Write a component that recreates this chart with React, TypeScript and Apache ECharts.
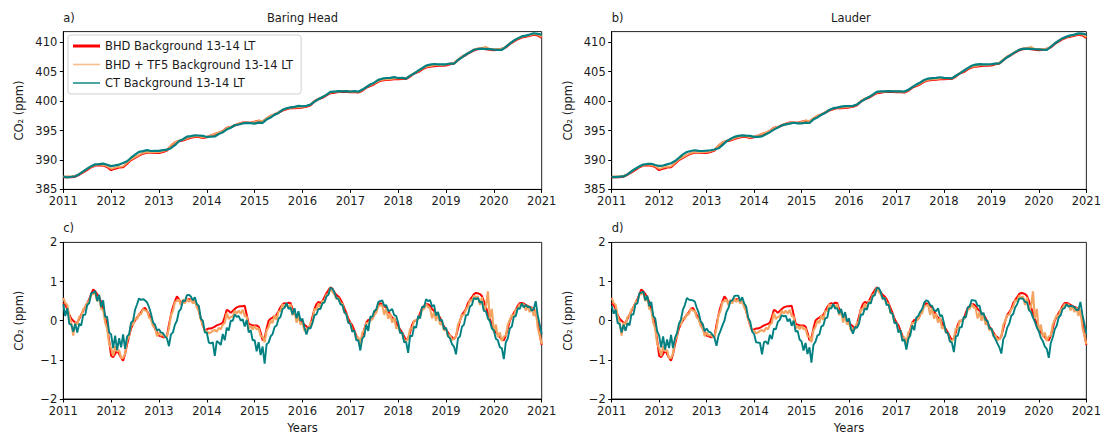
import React, { useEffect, useRef } from "react";
import * as echarts from "echarts";

// Time axis: values start in January 2011.
const START_YEAR = 2011;
const yearTicks = [2011, 2012, 2013, 2014, 2015, 2016, 2017, 2018, 2019, 2020, 2021];
const levelTicks = [385, 390, 395, 400, 405, 410];
const anomalyTicks = [-2, -1, 0, 1, 2];

const seriesNames = [
  "BHD Background 13-14 LT",
  "BHD + TF5 Background 13-14 LT",
  "CT Background 13-14 LT",
];

// Monthly CO2 (ppm), Jan 2011 .. Jan 2021 (121 values)
const bhdLevel = [
  387.05, 387.12, 387.08, 387.2, 387.52, 387.93, 388.35, 388.8, 389.08, 389.15, 389.07, 388.83,
  388.3, 388.55, 388.75, 388.78, 389.4, 390.0, 390.4, 390.75, 391.1, 391.25, 391.25, 391.2,
  391.22, 391.39, 391.62, 392.37, 392.93, 393.19, 393.32, 393.58, 393.81, 393.95, 393.93, 393.77,
  393.88, 394.11, 394.37, 394.62, 394.88, 395.42, 395.55, 395.86, 396.12, 396.34, 396.33, 396.29,
  396.48, 396.65, 396.5, 397.0, 397.45, 397.72, 398.05, 398.42, 398.63, 398.85, 398.8, 398.85,
  398.95, 399.07, 399.33, 399.95, 400.35, 400.58, 401.0, 401.37, 401.46, 401.57, 401.62, 401.59,
  401.55, 401.54, 401.48, 401.77, 402.31, 402.58, 402.89, 403.31, 403.54, 403.63, 403.65, 403.74,
  403.75, 403.8, 403.8, 404.2, 404.7, 404.95, 405.42, 405.72, 405.88, 405.95, 406.05, 406.05,
  406.08, 406.27, 406.43, 406.95, 407.5, 407.85, 408.28, 408.63, 408.85, 408.93, 408.85, 408.75,
  408.68, 408.76, 408.84, 409.14, 409.73, 410.14, 410.53, 410.81, 410.96, 411.12, 411.28, 411.19,
  410.78,
];

const tf5Level = [
  387.15, 387.2, 387.15, 387.32, 387.6, 388.02, 388.45, 388.85, 389.12, 389.25, 389.12, 388.95,
  388.5, 388.68, 388.85, 388.9, 389.5, 390.1, 390.48, 390.85, 391.18, 391.32, 391.3, 391.28,
  391.35, 391.48, 391.68, 392.45, 392.98, 393.3, 393.4, 393.65, 393.9, 394.0, 394.02, 393.85,
  393.95, 394.15, 394.42, 394.7, 394.92, 395.45, 395.6, 395.9, 396.15, 396.3, 396.38, 396.3,
  396.45, 396.7, 396.58, 397.08, 397.5, 397.8, 398.12, 398.48, 398.7, 398.9, 398.88, 398.92,
  399.02, 399.12, 399.4, 400.0, 400.42, 400.65, 401.08, 401.45, 401.55, 401.62, 401.7, 401.68,
  401.62, 401.6, 401.55, 401.85, 402.4, 402.65, 402.98, 403.4, 403.62, 403.7, 403.75, 403.82,
  403.85, 403.9, 403.88, 404.28, 404.78, 405.05, 405.5, 405.82, 405.95, 406.05, 406.15, 406.12,
  406.18, 406.35, 406.52, 407.05, 407.58, 407.95, 408.38, 408.72, 408.95, 409.05, 409.2, 408.85,
  408.8, 408.85, 408.92, 409.22, 409.82, 410.22, 410.62, 410.9, 411.05, 411.2, 411.38, 411.3,
  410.9,
];

const ctLevelBaringHead = [
  387.18, 387.05, 387.15, 387.22, 387.58, 388.05, 388.52, 388.95, 389.25, 389.28, 389.38, 389.18,
  388.95, 389.08, 389.22, 389.48, 389.78, 390.38, 390.92, 391.38, 391.5, 391.68, 391.52, 391.55,
  391.55, 391.68, 391.75, 392.0, 392.5, 393.18, 393.52, 393.95, 394.05, 394.2, 394.15, 394.08,
  393.9, 393.95, 393.98, 394.4, 394.7, 395.18, 395.48, 395.9, 396.02, 396.2, 396.3, 396.25,
  396.18, 396.35, 396.3, 396.88, 397.2, 397.7, 397.98, 398.52, 398.78, 398.92, 399.02, 399.18,
  399.12, 399.2, 399.4, 399.92, 400.3, 400.7, 401.05, 401.56, 401.62, 401.68, 401.66, 401.68,
  401.62, 401.68, 401.6, 401.95, 402.35, 402.82, 403.12, 403.6, 403.8, 403.92, 403.93, 404.08,
  403.92, 403.95, 403.82, 404.32, 404.68, 405.18, 405.58, 406.02, 406.18, 406.3, 406.22, 406.25,
  406.25, 406.38, 406.35, 406.98, 407.42, 407.92, 408.3, 408.72, 408.85, 408.92, 408.85, 408.82,
  408.75, 408.7, 408.68, 409.22, 409.75, 410.28, 410.65, 410.98, 411.12, 411.3, 411.52, 411.42,
  411.28,
];

const ctLevelLauder = [
  387.12, 387.08, 387.18, 387.2, 387.55, 388.08, 388.5, 388.92, 389.22, 389.32, 389.35, 389.15,
  388.98, 389.05, 389.25, 389.45, 389.82, 390.35, 390.95, 391.35, 391.52, 391.65, 391.55, 391.52,
  391.58, 391.65, 391.78, 391.98, 392.52, 393.15, 393.55, 393.92, 394.08, 394.18, 394.12, 394.1,
  393.92, 393.92, 394.0, 394.38, 394.72, 395.15, 395.5, 395.88, 396.05, 396.18, 396.32, 396.22,
  396.2, 396.32, 396.28, 396.9, 397.22, 397.68, 398.0, 398.5, 398.8, 398.9, 399.05, 399.15,
  399.15, 399.18, 399.42, 399.9, 400.32, 400.68, 401.08, 401.55, 401.65, 401.66, 401.68, 401.65,
  401.65, 401.66, 401.62, 401.92, 402.38, 402.8, 403.15, 403.58, 403.82, 403.9, 403.95, 404.05,
  403.95, 403.92, 403.85, 404.3, 404.7, 405.15, 405.6, 406.0, 406.2, 406.28, 406.25, 406.22,
  406.28, 406.35, 406.38, 406.95, 407.45, 407.9, 408.32, 408.7, 408.88, 408.9, 408.88, 408.8,
  408.78, 408.72, 408.7, 409.2, 409.78, 410.25, 410.68, 410.95, 411.15, 411.28, 411.5, 411.45,
  411.3,
];

// Detrended CO2 (ppm), twice a month, Jan 2011 .. Jan 2021 (241 values)
const bhdAnomaly = [
  0.45, 0.4, 0.3, 0.15, 0.05, 0.0, -0.05, -0.05, 0.05, 0.15, 0.25, 0.35, 0.45, 0.55, 0.68, 0.8, 0.75, 0.68, 0.6, 0.48, 0.3, 0.1, -0.15, -0.5,
  -0.9, -0.93, -0.85, -0.75, -0.85, -0.95, -1.02, -0.85, -0.6, -0.4, -0.2, -0.08, 0.0, 0.08, 0.15, 0.22, 0.3, 0.33, 0.25, 0.15, 0.05, -0.08, -0.2, -0.3,
  -0.38, -0.4, -0.42, -0.42, -0.4, -0.1, 0.15, 0.35, 0.5, 0.62, 0.55, 0.45, 0.47, 0.5, 0.52, 0.55, 0.55, 0.52, 0.48, 0.4, 0.25, 0.05, -0.12, -0.25,
  -0.22, -0.2, -0.2, -0.18, -0.15, -0.12, -0.1, -0.08, -0.05, 0.1, 0.28, 0.25, 0.2, 0.25, 0.3, 0.34, 0.36, 0.37, 0.37, 0.38, 0.15, -0.08, -0.1, -0.12,
  -0.12, -0.12, -0.15, -0.3, -0.5, -0.45, -0.2, 0.0, 0.05, 0.08, 0.12, 0.15, 0.25, 0.35, 0.42, 0.45, 0.43, 0.46, 0.45, 0.3, 0.2, 0.1, 0.05, 0.0,
  -0.05, -0.1, -0.15, -0.2, -0.1, 0.1, 0.3, 0.42, 0.48, 0.45, 0.5, 0.6, 0.7, 0.78, 0.85, 0.82, 0.72, 0.66, 0.62, 0.55, 0.45, 0.32, 0.2, 0.05,
  -0.05, -0.12, -0.25, -0.38, -0.5, -0.55, -0.4, -0.22, -0.05, 0.02, 0.03, 0.05, 0.15, 0.28, 0.38, 0.45, 0.42, 0.38, 0.32, 0.25, 0.15, 0.08, 0.05, -0.05,
  -0.15, -0.22, -0.3, -0.4, -0.5, -0.45, -0.3, -0.1, 0.0, 0.0, 0.05, 0.2, 0.32, 0.38, 0.42, 0.42, 0.38, 0.3, 0.25, 0.2, 0.15, 0.08, -0.05, -0.15,
  -0.22, -0.3, -0.38, -0.42, -0.47, -0.4, -0.2, 0.0, 0.15, 0.22, 0.3, 0.45, 0.53, 0.6, 0.68, 0.71, 0.7, 0.68, 0.63, 0.5, 0.35, 0.2, 0.05, -0.1,
  -0.22, -0.3, -0.35, -0.42, -0.48, -0.5, -0.38, -0.2, 0.0, 0.1, 0.2, 0.28, 0.38, 0.45, 0.45, 0.44, 0.4, 0.38, 0.35, 0.33, 0.3, 0.2, 0.0, -0.35,
  -0.62,
];

const tf5Anomaly = [
  0.58, 0.45, 0.4, 0.12, -0.05, -0.38, -0.05, -0.1, 0.1, 0.12, 0.3, 0.32, 0.46, 0.5, 0.66, 0.68, 0.7, 0.5, 0.6, 0.3, 0.28, -0.05, -0.2, -0.6,
  -0.7, -0.9, -0.65, -0.78, -0.75, -0.96, -0.95, -0.84, -0.5, -0.4, -0.1, -0.1, 0.06, 0.04, 0.18, 0.16, 0.3, 0.26, 0.25, 0.08, 0.04, -0.14, -0.16, -0.4,
  -0.3, -0.38, -0.36, -0.42, -0.4, -0.2, 0.14, 0.25, 0.48, 0.5, 0.54, 0.4, 0.54, 0.44, 0.58, 0.48, 0.54, 0.44, 0.52, 0.34, 0.24, 0.04, -0.1, -0.26,
  -0.26, -0.32, -0.3, -0.26, -0.24, -0.28, -0.18, -0.22, -0.1, -0.06, 0.2, 0.04, 0.1, 0.1, 0.26, 0.18, 0.26, 0.18, 0.28, 0.12, 0.1, -0.2, -0.14, -0.22,
  -0.14, -0.22, -0.2, -0.4, -0.4, -0.55, -0.25, -0.16, 0.0, -0.06, 0.14, 0.02, 0.24, 0.25, 0.42, 0.35, 0.4, 0.34, 0.42, 0.14, 0.26, -0.05, 0.14, -0.1,
  -0.05, -0.26, -0.2, -0.22, -0.05, -0.02, 0.3, 0.28, 0.44, 0.32, 0.5, 0.5, 0.66, 0.68, 0.84, 0.74, 0.68, 0.55, 0.58, 0.45, 0.43, 0.2, 0.18, -0.05,
  -0.06, -0.26, -0.26, -0.46, -0.42, -0.6, -0.3, -0.26, -0.06, -0.06, 0.0, 0.04, 0.16, 0.2, 0.38, 0.38, 0.4, 0.15, 0.32, 0.05, 0.18, -0.05, 0.08, -0.2,
  -0.16, -0.3, -0.32, -0.5, -0.52, -0.45, -0.2, -0.2, 0.0, 0.0, 0.05, 0.1, 0.28, 0.3, 0.42, 0.34, 0.32, 0.06, 0.22, 0.0, 0.18, -0.1, -0.06, -0.25,
  -0.2, -0.4, -0.36, -0.5, -0.46, -0.4, -0.1, 0.0, 0.14, 0.15, 0.28, 0.36, 0.52, 0.5, 0.64, 0.6, 0.62, 0.4, 0.6, 0.25, 0.35, 0.75, 0.05, 0.3,
  -0.3, -0.1, -0.42, -0.3, -0.52, -0.4, -0.38, -0.1, 0.02, 0.14, 0.12, 0.28, 0.32, 0.42, 0.4, 0.42, 0.26, 0.38, 0.22, 0.33, 0.12, 0.28, -0.18, -0.38,
  -0.6,
];

const ctAnomalyBaringHead = [
  0.42, 0.12, 0.32, -0.08, -0.1, -0.28, -0.08, -0.3, -0.08, -0.12, 0.15, 0.15, 0.4, 0.45, 0.7, 0.72, 0.76, 0.5, 0.66, 0.35, 0.52, 0.1, 0.1, -0.3,
  -0.35, -0.7, -0.38, -0.75, -0.45, -0.68, -0.35, -0.72, -0.4, -0.35, -0.05, 0.0, 0.28, 0.42, 0.57, 0.53, 0.55, 0.52, 0.47, 0.35, 0.18, -0.04, -0.1, -0.25,
  -0.22, -0.3, -0.32, -0.4, -0.45, -0.65, -0.35, -0.3, -0.1, 0.0, 0.24, 0.3, 0.52, 0.5, 0.65, 0.66, 0.62, 0.52, 0.6, 0.42, 0.38, 0.05, 0.0, -0.3,
  -0.3, -0.56, -0.58, -0.55, -0.9, -0.52, -0.56, -0.62, -0.34, -0.5, -0.18, -0.25, 0.0, 0.0, 0.16, 0.1, 0.12, 0.0, 0.04, -0.15, 0.02, -0.3, -0.24, -0.5,
  -0.5, -0.78, -0.55, -0.88, -0.66, -1.1, -0.6, -0.56, -0.4, -0.34, -0.16, -0.12, 0.05, 0.1, 0.3, 0.33, 0.45, 0.3, 0.34, 0.16, 0.32, 0.06, 0.24, 0.0,
  0.05, -0.18, -0.35, -0.18, -0.2, -0.06, 0.14, 0.16, 0.3, 0.3, 0.45, 0.46, 0.62, 0.66, 0.84, 0.82, 0.72, 0.58, 0.56, 0.42, 0.4, 0.22, 0.16, -0.05,
  -0.08, -0.28, -0.25, -0.5, -0.5, -0.76, -0.45, -0.4, -0.1, -0.26, 0.1, 0.1, 0.25, 0.28, 0.48, 0.5, 0.52, 0.38, 0.4, 0.25, 0.26, 0.3, 0.14, 0.12,
  -0.05, -0.32, -0.3, -0.55, -0.54, -0.82, -0.38, -0.4, -0.15, -0.18, 0.12, 0.06, 0.36, 0.34, 0.55, 0.5, 0.53, 0.36, 0.4, 0.13, 0.22, 0.0, 0.02, -0.22,
  -0.18, -0.4, -0.45, -0.6, -0.66, -0.86, -0.45, -0.4, -0.15, -0.1, 0.14, 0.15, 0.36, 0.4, 0.58, 0.55, 0.58, 0.46, 0.49, 0.25, 0.24, 0.06, -0.01, -0.2,
  -0.25, -0.46, -0.5, -0.68, -0.7, -0.98, -0.55, -0.45, -0.2, -0.15, 0.1, 0.12, 0.32, 0.3, 0.44, 0.34, 0.4, 0.35, 0.36, 0.25, 0.3, 0.5, 0.14, -0.1,
  -0.35,
];

const ctAnomalyLauder = [
  0.38, 0.18, 0.28, -0.06, -0.08, -0.3, -0.1, -0.26, -0.06, -0.12, 0.16, 0.16, 0.42, 0.44, 0.7, 0.72, 0.74, 0.52, 0.64, 0.37, 0.48, 0.12, 0.06, -0.27,
  -0.38, -0.68, -0.4, -0.74, -0.48, -0.7, -0.36, -0.7, -0.44, -0.32, -0.08, 0.03, 0.28, 0.4, 0.58, 0.54, 0.53, 0.52, 0.49, 0.33, 0.2, -0.02, -0.08, -0.27,
  -0.2, -0.28, -0.3, -0.36, -0.44, -0.64, -0.38, -0.26, -0.12, 0.0, 0.22, 0.32, 0.5, 0.52, 0.63, 0.64, 0.64, 0.5, 0.6, 0.44, 0.36, 0.08, -0.02, -0.28,
  -0.34, -0.55, -0.56, -0.57, -0.86, -0.55, -0.53, -0.6, -0.36, -0.47, -0.2, -0.22, -0.03, 0.02, 0.14, 0.11, 0.13, -0.02, 0.05, -0.13, 0.0, -0.28, -0.26, -0.48,
  -0.53, -0.76, -0.57, -0.85, -0.68, -1.07, -0.62, -0.54, -0.38, -0.35, -0.15, -0.12, 0.06, 0.08, 0.32, 0.31, 0.43, 0.31, 0.32, 0.18, 0.3, 0.08, 0.22, -0.02,
  0.06, -0.2, -0.33, -0.16, -0.18, -0.08, 0.16, 0.15, 0.32, 0.28, 0.46, 0.44, 0.63, 0.65, 0.83, 0.84, 0.74, 0.56, 0.58, 0.4, 0.41, 0.2, 0.18, -0.06,
  -0.06, -0.3, -0.24, -0.52, -0.48, -0.74, -0.46, -0.37, -0.12, -0.24, 0.08, 0.12, 0.23, 0.3, 0.46, 0.52, 0.5, 0.4, 0.38, 0.27, 0.24, 0.32, 0.12, 0.14,
  -0.06, -0.3, -0.32, -0.53, -0.56, -0.8, -0.4, -0.38, -0.17, -0.16, 0.1, 0.08, 0.34, 0.36, 0.53, 0.52, 0.51, 0.38, 0.38, 0.15, 0.2, 0.02, 0.0, -0.2,
  -0.2, -0.38, -0.47, -0.58, -0.68, -0.84, -0.47, -0.38, -0.17, -0.08, 0.12, 0.17, 0.34, 0.42, 0.56, 0.57, 0.56, 0.48, 0.47, 0.27, 0.22, 0.08, -0.03, -0.18,
  -0.27, -0.44, -0.52, -0.66, -0.72, -0.95, -0.57, -0.43, -0.22, -0.13, 0.08, 0.14, 0.3, 0.32, 0.42, 0.36, 0.38, 0.37, 0.34, 0.27, 0.28, 0.48, 0.16, -0.08,
  -0.33,
];

const FONT = '"DejaVu Sans", "Liberation Sans", sans-serif';
const TEXT_COLOR = "#1a1a1a";
const RED = "#ff0000";
const ORANGE = "#f4a460";
const TEAL = "#008080";

// Pair each value with its decimal year.
const toPoints = (values: number[], stepsPerYear: number) =>
  values.map((v, i) => [START_YEAR + i / stepsPerYear, v]);

type Panel = {
  tag: string;
  title: string;
  left: number;
  top: number;
  kind: "level" | "anomaly";
  red: number[];
  orange: number[];
  teal: number[];
};

const PLOT_W = 478.4;
const PLOT_H = 157.8;

const panels: Panel[] = [
  { tag: "a)", title: "Baring Head", left: 63.3, top: 31.6, kind: "level", red: bhdLevel, orange: tf5Level, teal: ctLevelBaringHead },
  { tag: "b)", title: "Lauder", left: 611.7, top: 31.6, kind: "level", red: bhdLevel, orange: tf5Level, teal: ctLevelLauder },
  { tag: "c)", title: "", left: 63.3, top: 242.4, kind: "anomaly", red: bhdAnomaly, orange: tf5Anomaly, teal: ctAnomalyBaringHead },
  { tag: "d)", title: "", left: 611.7, top: 242.4, kind: "anomaly", red: bhdAnomaly, orange: tf5Anomaly, teal: ctAnomalyLauder },
];

const minusSign = (v: number | string) => String(v).replace("-", "\u2212");

function buildOption() {
  const grid: any[] = [];
  const xAxis: any[] = [];
  const yAxis: any[] = [];
  const series: any[] = [];
  const graphic: any[] = [];

  panels.forEach((p, idx) => {
    const isLevel = p.kind === "level";
    grid.push({
      left: p.left,
      top: p.top,
      width: PLOT_W,
      height: PLOT_H,
      show: true,
      borderColor: "#222",
      borderWidth: 1,
      backgroundColor: "#fff",
      containLabel: false,
    });
    xAxis.push({
      type: "value",
      gridIndex: idx,
      min: 2011,
      max: 2021,
      interval: 1,
      name: isLevel ? "" : "Years",
      nameLocation: "middle",
      nameGap: 23,
      nameTextStyle: { fontFamily: FONT, fontSize: 11.5, color: TEXT_COLOR },
      axisLine: { show: true, onZero: false, lineStyle: { color: "#000", width: 1 } },
      axisTick: { show: true, length: 3.5, lineStyle: { color: "#000", width: 1 } },
      axisLabel: {
        show: true,
        margin: 6,
        fontFamily: FONT,
        fontSize: 11.5,
        color: TEXT_COLOR,
        formatter: (v: number) => String(Math.round(v)),
        customValues: yearTicks,
      },
      splitLine: { show: false },
    });
    yAxis.push({
      type: "value",
      gridIndex: idx,
      min: isLevel ? 385 : -2,
      max: isLevel ? 411.8 : 2,
      name: "CO\u2082 (ppm)",
      nameLocation: "middle",
      nameGap: 38,
      nameTextStyle: { fontFamily: FONT, fontSize: 11.5, color: TEXT_COLOR },
      axisLine: { show: true, onZero: false, lineStyle: { color: "#000", width: 1 } },
      axisTick: {
        show: true,
        length: 3.5,
        lineStyle: { color: "#000", width: 1 },
        customValues: isLevel ? levelTicks : anomalyTicks,
      },
      axisLabel: {
        show: true,
        margin: 6,
        fontFamily: FONT,
        fontSize: 11.5,
        color: TEXT_COLOR,
        formatter: (v: number) => minusSign(v),
        customValues: isLevel ? levelTicks : anomalyTicks,
      },
      splitLine: { show: false },
    });

    const steps = isLevel ? 12 : 24;
    const common = {
      type: "line",
      xAxisIndex: idx,
      yAxisIndex: idx,
      showSymbol: false,
      symbol: "none",
      silent: true,
      clip: true,
    };
    series.push({
      ...common,
      name: seriesNames[0],
      color: RED,
      z: 2,
      lineStyle: { color: RED, width: isLevel ? 2.4 : 2.0 },
      data: toPoints(p.red, steps),
    });
    series.push({
      ...common,
      name: seriesNames[1],
      color: ORANGE,
      z: 3,
      lineStyle: { color: ORANGE, width: isLevel ? 1.8 : 2.1 },
      data: toPoints(p.orange, steps),
    });
    series.push({
      ...common,
      name: seriesNames[2],
      color: TEAL,
      z: 4,
      lineStyle: { color: TEAL, width: isLevel ? 2.2 : 1.9 },
      data: toPoints(p.teal, steps),
    });

    graphic.push({
      type: "text",
      left: p.left,
      top: p.top - 20,
      style: { text: p.tag, font: `11.5px ${FONT}`, fill: TEXT_COLOR },
    });
    if (p.title) {
      graphic.push({
        type: "text",
        x: p.left + PLOT_W / 2,
        y: p.top - 14,
        style: {
          text: p.title,
          font: `11.5px ${FONT}`,
          fill: TEXT_COLOR,
          align: "center",
          verticalAlign: "middle",
        },
      });
    }
  });

  return {
    animation: false,
    backgroundColor: "#fff",
    grid,
    xAxis,
    yAxis,
    series,
    graphic,
    legend: {
      show: true,
      orient: "vertical",
      left: 68,
      top: 35,
      padding: [5, 8, 5, 5],
      itemGap: 6.5,
      itemWidth: 27,
      itemHeight: 12,
      selectedMode: false,
      borderColor: "#d0d0d0",
      borderWidth: 1,
      borderRadius: 3,
      backgroundColor: "rgba(255,255,255,0.85)",
      textStyle: { fontFamily: FONT, fontSize: 11.5, color: TEXT_COLOR },
      data: [
        { name: seriesNames[0], icon: "path://M0,0H27V3H0Z", itemStyle: { color: RED } },
        { name: seriesNames[1], icon: "path://M0,0H27V1.6H0Z", itemStyle: { color: "#f8be8c" } },
        { name: seriesNames[2], icon: "path://M0,0H27V1.4H0Z", itemStyle: { color: TEAL } },
      ],
    },
  };
}

export default function App() {
  const ref = useRef<HTMLDivElement>(null);

  useEffect(() => {
    if (!ref.current) return;
    const chart = echarts.init(ref.current, undefined, { renderer: "svg" });
    chart.setOption(buildOption() as any);
    return () => chart.dispose();
  }, []);

  return (
    <div
      ref={ref}
      style={{ position: "absolute", left: 0, top: 0, width: 1104, height: 435, background: "#fff" }}
    />
  );
}
